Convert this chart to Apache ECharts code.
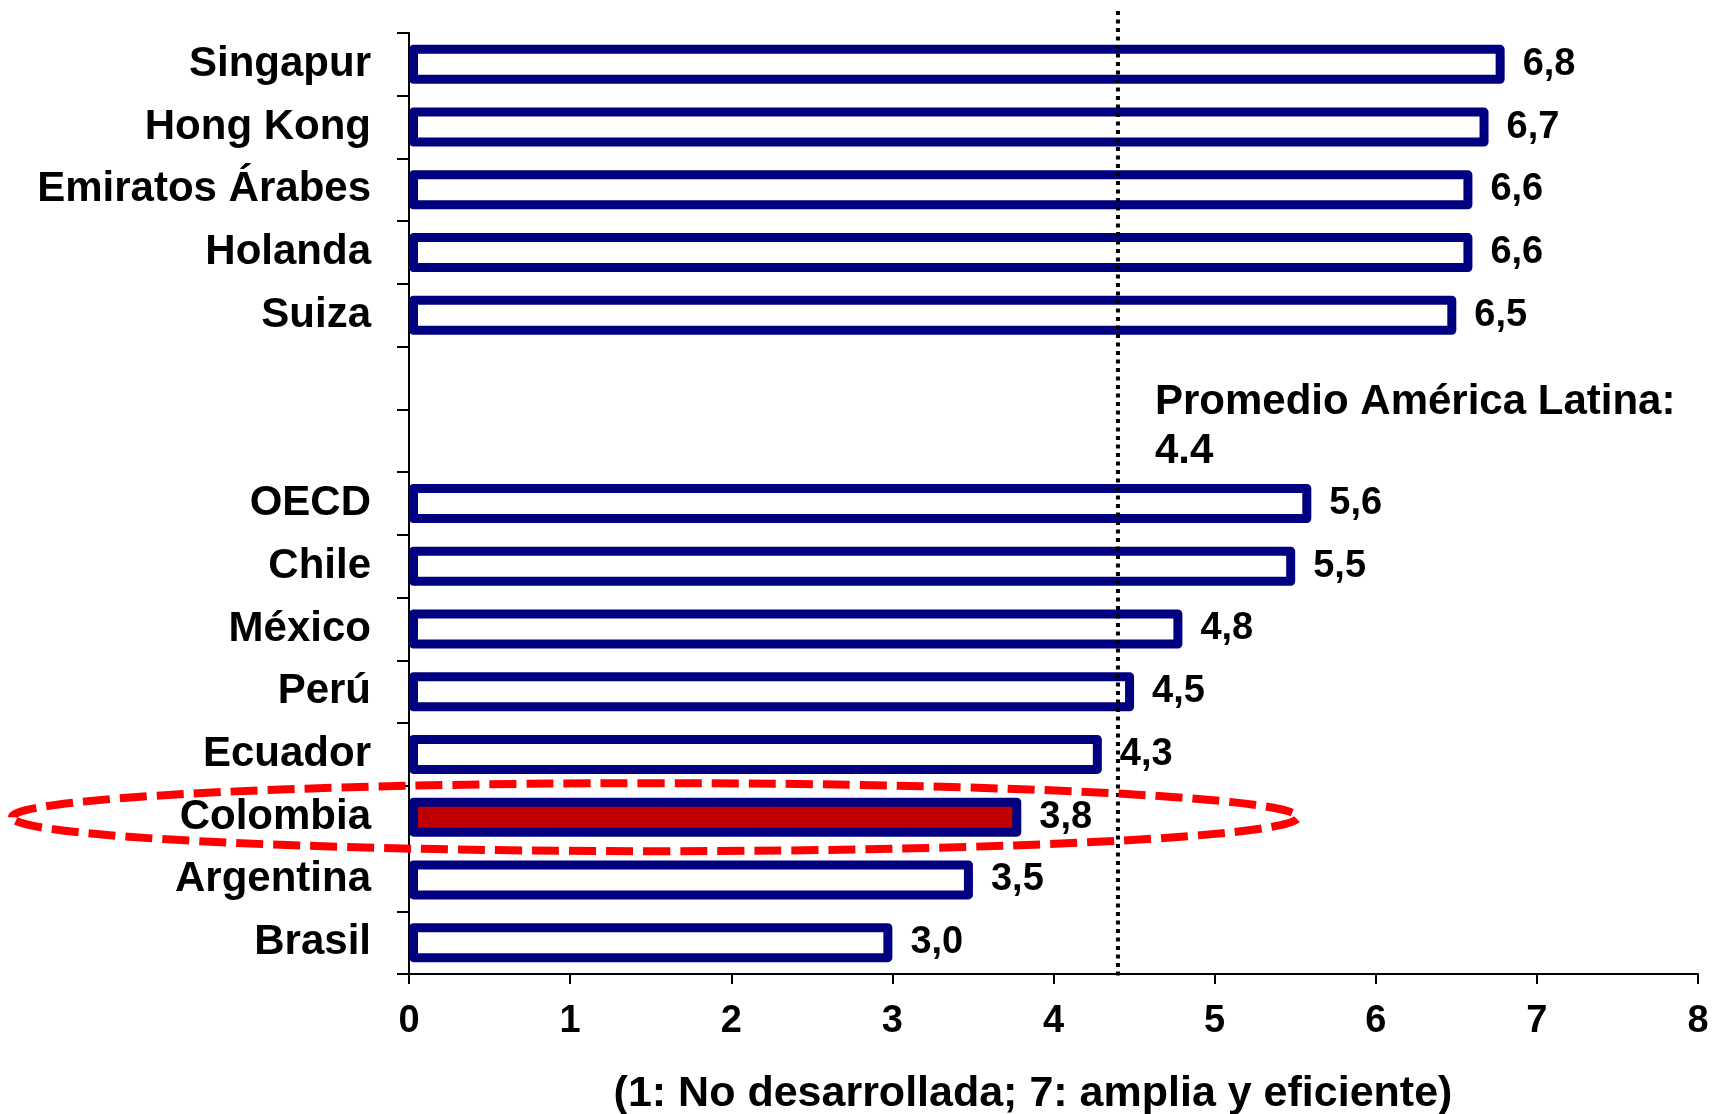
<!DOCTYPE html>
<html><head><meta charset="utf-8">
<script src="https://cdn.jsdelivr.net/npm/echarts@6/dist/echarts.min.js"></script>
<style>html,body{margin:0;padding:0;background:#fff;}#chart{width:1712px;height:1114px;}</style>
</head><body><div id="chart"></div>
<script>
const categories = ['Singapur','Hong Kong','Emiratos Árabes','Holanda','Suiza',' ','  ','OECD','Chile','México','Perú','Ecuador','Colombia','Argentina','Brasil'];
const values = [6.8, 6.7, 6.6, 6.6, 6.5, null, null, 5.6, 5.5, 4.8, 4.5, 4.3, 3.8, 3.5, 3.0];
const highlight = 'Colombia';
const latamAverage = 4.4;
const xTickLabels = ['0','1','2','3','4','5','6','7','8'];
const axisTitle = '(1: No desarrollada; 7: amplia y eficiente)';
const avgLabel = 'Promedio América Latina:\n4.4';

const FONT = '"Liberation Sans", Arial, sans-serif';
const chart = echarts.init(document.getElementById('chart'), null, {renderer: 'canvas'});

const seriesData = values.map((v, i) => {
  if (v === null) return '-';
  const item = {value: v};
  if (categories[i] === highlight) item.itemStyle = {color: '#C00000'};
  return item;
});

chart.setOption({
  animation: false,
  backgroundColor: '#fff',
  grid: {left: 409, right: 14, top: 33, bottom: 140, containLabel: false, outerBoundsMode: 'none'},
  xAxis: {
    type: 'value', min: 0, max: 8, interval: 1,
    splitLine: {show: false},
    axisLine: {show: true, lineStyle: {color: '#000', width: 2}},
    axisTick: {show: true, length: 10, lineStyle: {color: '#000', width: 2}},
    axisLabel: {fontSize: 38, fontWeight: 'bold', color: '#000', fontFamily: FONT, margin: 29,
      formatter: v => xTickLabels[Math.round(v)] ?? String(v)},
    name: axisTitle, nameLocation: 'middle', nameGap: 99,
    nameTextStyle: {fontSize: 43, fontWeight: 'bold', color: '#000', fontFamily: FONT,
      padding: [0, 41, 0, 0]}
  },
  yAxis: {
    type: 'category', inverse: true, data: categories,
    axisLine: {show: true, lineStyle: {color: '#000', width: 2}},
    axisTick: {show: true, length: 12, lineStyle: {color: '#000', width: 2}},
    axisLabel: {fontSize: 42, fontWeight: 'bold', color: '#000', fontFamily: FONT, margin: 38,
      padding: [6, 0, 0, 0]}
  },
  series: [{
    type: 'bar',
    data: seriesData,
    barWidth: 39,
    itemStyle: {color: '#fff', borderColor: '#000080', borderWidth: 9, borderJoin: 'round'},
    label: {show: true, position: 'right', distance: 18, fontSize: 38, fontWeight: 'bold',
      color: '#000', fontFamily: FONT, padding: [6, 0, 0, 0],
      formatter: p => p.value.toFixed(1).replace('.', ',')}
  }]
});

function placeGraphics() {
  const xAvg = chart.convertToPixel({xAxisIndex: 0}, latamAverage);
  const x0 = chart.convertToPixel({xAxisIndex: 0}, 0);
  const yBottom = chart.convertToPixel({yAxisIndex: 0}, categories[categories.length - 1]);
  const yTop = chart.convertToPixel({yAxisIndex: 0}, categories[0]);
  const step = (yBottom - yTop) / (categories.length - 1);
  const axisBottom = yBottom + step / 2;
  const yHi = chart.convertToPixel({yAxisIndex: 0}, highlight);
  const yGap = chart.convertToPixel({yAxisIndex: 0}, categories[5]);
  chart.setOption({
    graphic: [
      {type: 'line', z: 50,
        shape: {x1: xAvg, y1: 11, x2: xAvg, y2: axisBottom + 4},
        style: {stroke: '#000', lineWidth: 4, lineDash: [4, 4.5]}},
      {type: 'text', z: 50, x: xAvg + 37, y: yGap,
        style: {text: avgLabel, fontSize: 42, fontWeight: 'bold', fill: '#000',
          fontFamily: FONT, lineHeight: 49, verticalAlign: 'top'}},
      {type: 'ellipse', z: 60,
        shape: {cx: x0 + 246, cy: yHi, rx: 643, ry: 34},
        style: {fill: 'none', stroke: '#FF0000', lineWidth: 8, lineDash: [27, 10]}}
    ]
  });
}
placeGraphics();
</script>
</body></html>
